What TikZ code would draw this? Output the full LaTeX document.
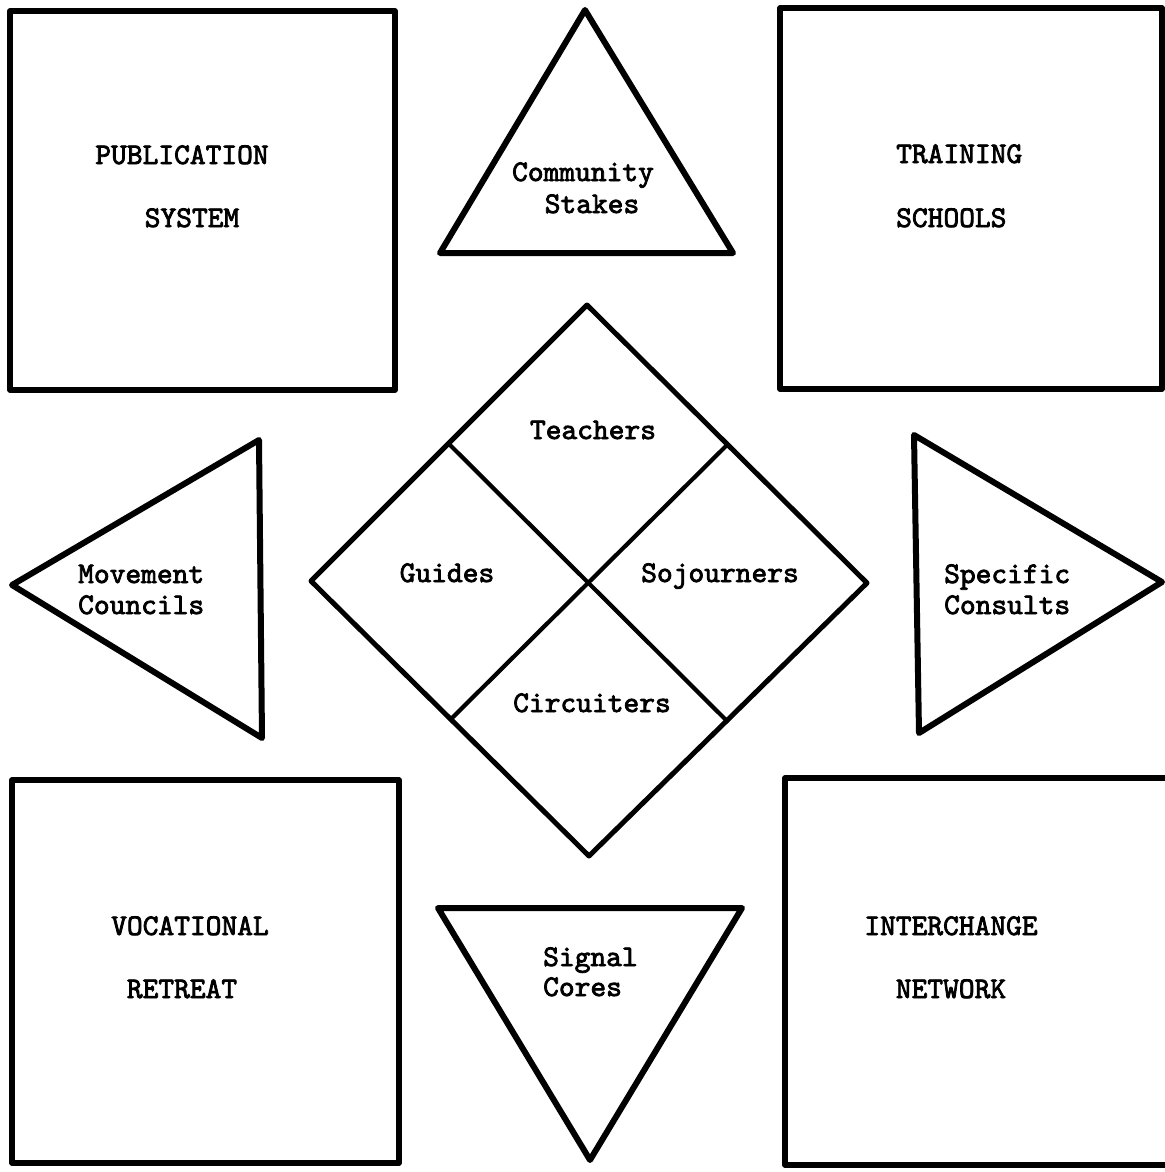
\documentclass[tikz,border=0pt]{standalone}
\usepackage{fontspec}
\setmonofont[FakeBold=2.6]{lmmono10-regular.otf}
\begin{document}
\begin{tikzpicture}[x=1pt,y=-1pt,
  boxline/.style={line width=5.5pt,line join=round,line cap=round},
  triline/.style={line width=6pt,line join=round,line cap=round},
  diamline/.style={line width=5pt,line join=round,line cap=round},
  splitline/.style={line width=4.2pt,line cap=round},
  lbl/.style={font=\ttfamily\fontsize{30}{30}\selectfont,inner sep=0pt,anchor=base},
  lblw/.style={font=\ttfamily\fontsize{30}{30}\selectfont,inner sep=0pt,anchor=base west}]
\useasboundingbox (0,0) rectangle (1164,1172);
\fill[white] (0,0) rectangle (1164,1172);
% corner boxes
\draw[boxline] (10,11) rectangle (395,390);
\draw[boxline] (780,8) rectangle (1162,389);
\draw[boxline] (12,780) rectangle (399,1163);
\draw[boxline] (785,778) rectangle (1170,1165);
% triangles
\draw[triline] (585,10) -- (733,253) -- (440,253) -- cycle;
\draw[triline] (438,908) -- (742,908) -- (590,1160) -- cycle;
\draw[triline] (12,585) -- (259,440) -- (262,738) -- cycle;
\draw[triline] (914,435) -- (1162,582) -- (919,733) -- cycle;
% diamond
\coordinate (dT) at (587,305);
\coordinate (dL) at (311,581);
\coordinate (dR) at (867,583);
\coordinate (dB) at (589,856);
\draw[diamline] (dT) -- (dR) -- (dB) -- (dL) -- cycle;
\coordinate (dTL) at (450,445);
\coordinate (dBR) at (727,721);
\coordinate (dTR) at (726,446);
\coordinate (dBL) at (451,719);
\draw[splitline] (dTL) -- (dBR);
\draw[splitline] (dTR) -- (dBL);
% labels
\node[lbl] (pub1) at (182,164) {PUBLICATION};
\node[lbl] (pub2) at (192,227) {SYSTEM};
\node[lblw] (tr1) at (896,163) {TRAINING};
\node[lblw] (tr2) at (896,227) {SCHOOLS};
\node[lbl] (vo1) at (190,935) {VOCATIONAL};
\node[lbl] (vo2) at (182,998) {RETREAT};
\node[lbl] (in1) at (951,935) {INTERCHANGE};
\node[lbl] (in2) at (951,998) {NETWORK};
\node[lbl] (cs1) at (583,181) {Community};
\node[lbl] (cs2) at (592,213) {Stakes};
\node[lblw] (sc1) at (543,966) {Signal};
\node[lblw] (sc2) at (543,996) {Cores};
\node[lblw] (mc1) at (78,583) {Movement};
\node[lblw] (mc2) at (78,614) {Councils};
\node[lblw] (sp1) at (944,583) {Specific};
\node[lblw] (sp2) at (944,614) {Consults};
\node[lbl] (te) at (593,439) {Teachers};
\node[lbl] (gu) at (447,582) {Guides};
\node[lbl] (so) at (720,582) {Sojourners};
\node[lbl] (ci) at (592,712) {Circuiters};
\end{tikzpicture}
\end{document}
